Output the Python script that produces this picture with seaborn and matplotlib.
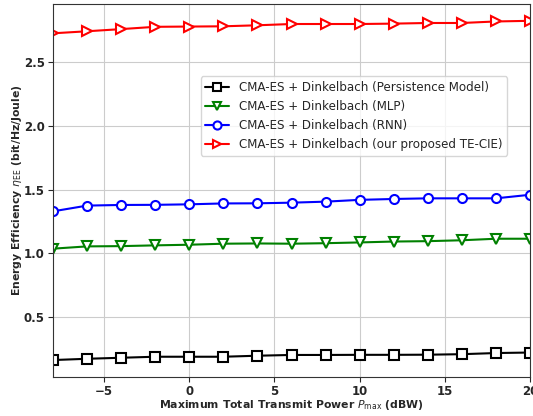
import numpy as np
import pandas as pd
import matplotlib
matplotlib.use("Agg")
import matplotlib.pyplot as plt
import seaborn as sns

x_vals = [-8, -6, -4, -2, 0, 2, 4, 6, 8, 10, 12, 14, 16, 18, 20]
persistence = [0.163, 0.173, 0.181, 0.189, 0.189, 0.189, 0.197, 0.203, 0.203, 0.204, 0.204, 0.205, 0.209, 0.218, 0.222]
mlp = [1.037, 1.055, 1.057, 1.063, 1.068, 1.076, 1.078, 1.076, 1.080, 1.086, 1.093, 1.096, 1.103, 1.115, 1.115]
rnn = [1.330, 1.375, 1.380, 1.381, 1.385, 1.392, 1.393, 1.398, 1.406, 1.420, 1.427, 1.432, 1.432, 1.432, 1.460]
tecie = [2.727, 2.743, 2.760, 2.778, 2.780, 2.782, 2.790, 2.800, 2.800, 2.800, 2.803, 2.808, 2.808, 2.820, 2.825]

labels = ["CMA-ES + Dinkelbach (Persistence Model)",
          "CMA-ES + Dinkelbach (MLP)",
          "CMA-ES + Dinkelbach (RNN)",
          "CMA-ES + Dinkelbach (our proposed TE-CIE)"]
colors = ["black", "green", "blue", "red"]
markers = ["s", "v", "o", ">"]
series = [persistence, mlp, rnn, tecie]

sns.set_style("ticks")
plt.rcParams['font.family'] = ['DejaVu Sans']

fig = plt.figure(figsize=(5.33, 4.16), dpi=100)
ax = fig.add_axes([53/533, 1 - 377/416, 477/533, 373/416])

for lab, c, m, ys in zip(labels, colors, markers, series):
    df = pd.DataFrame({"x": x_vals, "y": ys})
    sns.lineplot(data=df, x="x", y="y", ax=ax, color=c, marker=m, label=lab,
                 markersize=6.5, markerfacecolor="white", markeredgecolor=c,
                 markeredgewidth=1.5, linewidth=1.5)

ax.set_xlim(-8, 20)
ax.set_ylim(0.03, 2.957)
ax.set_yticks([0.5, 1.0, 1.5, 2.0, 2.5])
ax.set_xticks([-5, 0, 5, 10, 15, 20])
ax.grid(True, color="#cccccc", linewidth=0.8)
for sp in ax.spines.values():
    sp.set_visible(True)
    sp.set_color("#333333")
ax.tick_params(labelsize=8.5, pad=2.5)
for t in ax.get_xticklabels() + ax.get_yticklabels():
    t.set_fontweight("bold")
ax.set_xlabel(r"Maximum Total Transmit Power $P_{\mathrm{max}}$ (dBW)", fontsize=7.8, fontweight="bold", labelpad=0)
ax.set_ylabel(r"Energy Efficiency $\eta_{\mathrm{EE}}$ (bit/Hz/Joule)", fontsize=7.8, fontweight="bold", labelpad=0)
ax.legend(loc="upper right", bbox_to_anchor=(0.952, 0.806), borderaxespad=0,
          fontsize=8.6, frameon=True, framealpha=0.8, markerscale=0.9)

fig.savefig("out.png", dpi=100)
